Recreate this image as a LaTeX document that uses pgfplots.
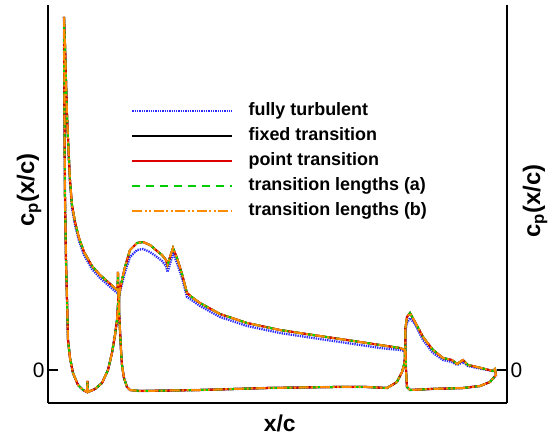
\documentclass[border=0pt]{standalone}
\usepackage{fontspec}
\setmainfont{Liberation Sans}
\usepackage{pgfplots}
\usepackage{pgfplotstable}
\pgfplotsset{compat=1.18}

\definecolor{cpblue}{RGB}{40,40,255}
\definecolor{cpred}{RGB}{220,0,0}
\definecolor{cpgreen}{RGB}{0,205,0}
\definecolor{cporange}{RGB}{255,140,0}

% Pressure distribution of slat, main element and flap.
% Columns: x/c, fully turbulent, transitional runs; nan rows separate the elements.
\pgfplotstableread{
x       turb   trans
0.0344  3.53   3.53
0.0366  3.22   3.25
0.0387  2.87   2.90
0.0409  2.52   2.55
0.0441  2.17   2.20
0.0473  1.87   1.90
0.0516  1.62   1.65
0.0581  1.45   1.48
0.0667  1.29   1.32
0.0774  1.15   1.18
0.0946  1.01   1.04
0.1118  0.92   0.95
0.1290  0.85   0.88
0.1462  0.78   0.81
0.1495  0.77   0.80
0.1505  0.76   0.98
0.1516  0.75   0.78
0.1505  0.65   0.65
0.1484  0.50   0.50
0.1441  0.35   0.35
0.1376  0.17   0.17
0.1290  0.00   0.00
0.1161  -0.13  -0.13
0.1011  -0.19  -0.19
0.0860  -0.22  -0.22
0.0849  -0.11  -0.11
0.0839  -0.22  -0.22
0.0753  -0.20  -0.20
0.0645  -0.15  -0.15
0.0538  -0.03  -0.03
0.0473  0.12   0.12
0.0430  0.30   0.30
0.0409  0.70   0.70
0.0387  1.10   1.10
0.0366  1.70   1.70
0.0355  2.50   2.50
0.0348  3.10   3.10
0.0344  3.53   3.53
nan     nan    nan
0.1527  0.72   0.73
0.1548  0.78   0.80
0.1591  0.86   0.90
0.1656  0.98   1.03
0.1763  1.13   1.20
0.1914  1.20   1.27
0.2043  1.21   1.28
0.2194  1.18   1.25
0.2344  1.13   1.19
0.2452  1.09   1.15
0.2538  1.04   1.10
0.2570  0.98   1.05
0.2624  1.06   1.13
0.2688  1.17   1.22
0.2774  1.07   1.12
0.2882  0.92   0.96
0.2989  0.73   0.77
0.3118  0.69   0.72
0.3269  0.64   0.67
0.3699  0.53   0.56
0.4280  0.44   0.47
0.4989  0.37   0.40
0.5699  0.32   0.35
0.6430  0.27   0.30
0.7140  0.22   0.25
0.7570  0.20   0.22
0.7677  0.19   0.20
0.7677  0.12   0.12
0.7656  0.05   0.05
0.7613  -0.02  -0.02
0.7505  -0.12  -0.12
0.7290  -0.18  -0.18
0.6860  -0.17  -0.17
0.6129  -0.17  -0.17
0.4710  -0.18  -0.18
0.3269  -0.20  -0.20
0.1978  -0.21  -0.21
0.1763  -0.20  -0.20
0.1699  -0.17  -0.17
0.1634  -0.08  -0.08
0.1591  0.05   0.05
0.1570  0.20   0.20
0.1548  0.40   0.40
0.1527  0.60   0.60
0.1527  0.72   0.73
nan     nan    nan
0.7688  0.40   0.42
0.7720  0.47   0.53
0.7785  0.52   0.57
0.7892  0.46   0.48
0.8065  0.30   0.33
0.8280  0.17   0.20
0.8495  0.10   0.12
0.8688  0.08   0.10
0.8796  0.05   0.06
0.8925  0.08   0.10
0.9032  0.04   0.05
0.9226  0.02   0.03
0.9570  -0.01  -0.01
0.9613  0.01   0.01
0.9634  -0.05  -0.05
0.9505  -0.12  -0.12
0.9290  -0.16  -0.16
0.8925  -0.18  -0.18
0.8215  -0.19  -0.19
0.7785  -0.20  -0.20
0.7720  -0.17  -0.17
0.7699  0.00   0.00
0.7688  0.20   0.20
0.7688  0.40   0.42
}\cpdata

\begin{document}
\begin{tikzpicture}
\path[use as bounding box] (0,0) rectangle (553bp,438bp);

\pgfplotsset{
  cpframe/.style={
    at={(48bp,35bp)}, anchor=south west,
    scale only axis, width=459bp, height=398bp,
    xmin=0, xmax=0.9871, ymin=-0.33, ymax=3.65,
    axis line style={-, line width=1.6bp, black},
    ytick={0}, xtick=\empty,
    tick align=inside, major tick length=10bp,
    major tick style={line width=1.6bp, black},
    /pgf/number format/assume math mode=true,
    yticklabel style={font=\fontsize{21}{24}\selectfont},
  },
}

\begin{axis}[
  cpframe,
  axis x line*=bottom, axis y line*=left,
  unbounded coords=jump,
  xlabel={x/c},
  every axis x label/.style={at={(axis description cs:0.505,-0.052)}, anchor=center,
    font=\bfseries\fontsize{23}{26}\selectfont},
  ylabel={c\textsubscript{p}(x/c)},
  every axis y label/.style={at={(axis description cs:-0.0414,0.535)}, anchor=center, rotate=90,
    font=\bfseries\fontsize{24}{28}\selectfont},
  legend cell align=left,
  legend image code/.code={\draw[#1] (0bp,0bp) -- (100bp,0bp);},
  legend style={draw=none, fill=none, inner sep=0pt,
    at={(axis description cs:0.181,0.760)}, anchor=north west,
    font=\bfseries\fontsize{18}{21}\selectfont,
    row sep=4bp, column sep=14bp,
    nodes={inner sep=1bp, text height=14bp, text depth=5bp}},
]
\addplot[cpblue, line width=2.3bp, dash pattern=on 1.3bp off 1bp] table[x=x, y=turb] {\cpdata};
\addlegendentry{fully turbulent}
\addplot[black, line width=2bp] table[x=x, y=trans] {\cpdata};
\addlegendentry{fixed transition}
\addplot[cpred, line width=2bp] table[x=x, y=trans] {\cpdata};
\addlegendentry{point transition}
\addplot[cpgreen, line width=2bp, dash pattern=on 8bp off 6bp] table[x=x, y=trans] {\cpdata};
\addlegendentry{transition lengths (a)}
\addplot[cporange, line width=2bp, dash pattern=on 10bp off 2.5bp on 2bp off 2.5bp on 2bp off 2.5bp] table[x=x, y=trans] {\cpdata};
\addlegendentry{transition lengths (b)}
\end{axis}

\begin{axis}[
  cpframe,
  axis x line=none, axis y line*=right,
  ylabel={c\textsubscript{p}(x/c)},
  every axis y label/.style={at={(axis description cs:1.061,0.508)}, anchor=center, rotate=90,
    font=\bfseries\fontsize{24}{28}\selectfont},
]
\end{axis}
\end{tikzpicture}
\end{document}
